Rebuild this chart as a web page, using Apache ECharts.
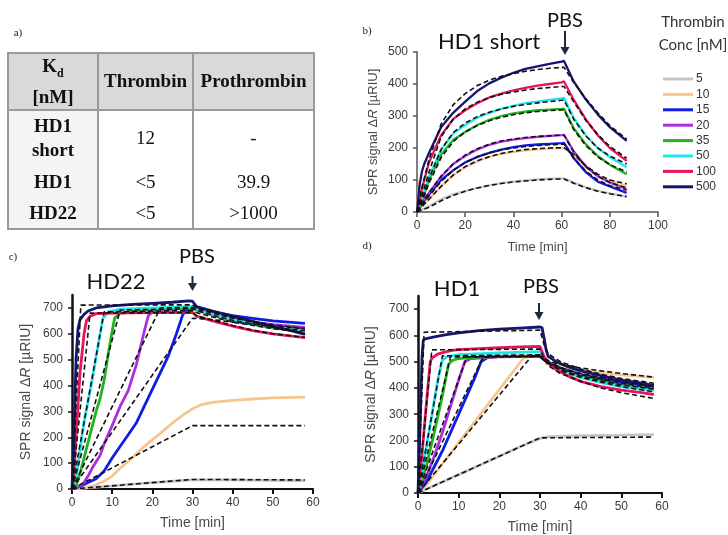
<!DOCTYPE html>
<html>
<head>
<meta charset="utf-8">
<script src="https://cdn.jsdelivr.net/npm/echarts@6/dist/echarts.min.js"></script>
<style>
html, body { margin: 0; padding: 0; background: #fff; }
#chart { position: absolute; left: 0; top: 0; width: 728px; height: 535px; }
#kdTable {
	position: absolute; left: 7px; top: 52px;
	border-collapse: collapse; table-layout: fixed;
	font-family: "Liberation Serif", "Times New Roman", serif;
	font-size: 19px; color: #111; line-height: 24px;
}
#kdTable td, #kdTable th { border-left: 2px solid #9a9a9a; border-right: 2px solid #9a9a9a; padding: 0; text-align: center; }
#kdTable th { background: #d9d9d9; border-top: 2px solid #9a9a9a; border-bottom: 2px solid #9a9a9a; }
#kdTable tr:last-child td { border-bottom: 2px solid #9a9a9a; }
#kdTable td.nm { font-weight: bold; background: #f4f4f4; }
</style>
</head>
<body>
<div id="chart"></div>
<table id="kdTable">
	<colgroup><col style="width:90px"><col style="width:95px"><col style="width:121px"></colgroup>
	<tr style="height:55px"><th>K<sub style="font-size:12px">d</sub><br>[nM]</th><th>Thrombin</th><th>Prothrombin</th></tr>
	<tr style="height:56px"><td class="nm">HD1<br>short</td><td>12</td><td>-</td></tr>
	<tr style="height:32px"><td class="nm">HD1</td><td>&lt;5</td><td>39.9</td></tr>
	<tr style="height:31px"><td class="nm">HD22</td><td>&lt;5</td><td>&gt;1000</td></tr>
</table>
<script>
// 浓度与颜色
var concNames = ['5', '10', '15', '20', '35', '50', '100', '500'];
var concColors = ['#c6c6c6', '#f7c690', '#0f1ce6', '#ad2ede', '#20b420', '#22e4ee', '#e6145e', '#15166e'];

// b) HD1 short —— 公共时间轴
var tB = [0, 1, 2, 3, 5, 10, 15, 20, 25, 30, 35, 40, 45, 50, 55, 60, 61, 65, 70, 75, 80, 87];
var b5   = [0, 5, 8, 10, 18, 40, 55, 65, 75, 83, 90, 95, 99, 102, 104, 105, 105, 92, 78, 66, 58, 48];
var b10  = [0, 100, 40, 25, 40, 80, 115, 140, 158, 172, 182, 188, 193, 196, 198, 200, 200, 178, 140, 112, 98, 82];
var b15  = [0, 10, 25, 35, 55, 100, 130, 155, 172, 185, 195, 203, 208, 211, 213, 215, 216, 169, 125, 95, 80, 60];
var b20  = [0, 10, 25, 40, 60, 110, 150, 175, 195, 210, 220, 226, 231, 235, 238, 240, 241, 190, 143, 112, 92, 72];
var b35  = [0, 15, 35, 55, 100, 180, 225, 250, 272, 288, 300, 308, 314, 318, 320, 322, 323, 262, 212, 175, 148, 118];
var b50  = [0, 20, 45, 65, 110, 195, 245, 272, 295, 310, 322, 332, 340, 345, 350, 355, 357, 294, 240, 200, 172, 140];
var b100 = [0, 30, 70, 100, 155, 240, 290, 318, 340, 358, 370, 380, 388, 395, 400, 405, 408, 351, 290, 240, 200, 160];
var b500 = [0, 80, 125, 150, 185, 265, 310, 345, 378, 402, 420, 435, 447, 455, 463, 470, 472, 408, 352, 305, 265, 222];
// 拟合曲线
var fb5   = [0, 3, 6, 9, 15, 35, 52, 65, 75, 83, 89, 94, 97, 100, 102, 103, 103, 90, 76, 65, 57, 48];
var fb10  = [0, 8, 16, 24, 40, 80, 115, 142, 160, 173, 183, 190, 195, 198, 200, 201, 201, 180, 145, 118, 100, 88];
var fb15  = [0, 10, 20, 30, 50, 95, 130, 155, 172, 185, 194, 200, 205, 208, 210, 212, 212, 168, 128, 100, 82, 68];
var fb20  = [0, 12, 25, 38, 60, 112, 150, 178, 198, 212, 222, 228, 233, 236, 238, 240, 240, 188, 142, 112, 92, 75];
var fb35  = [0, 15, 35, 50, 90, 170, 220, 250, 270, 285, 296, 304, 310, 314, 317, 319, 319, 258, 208, 172, 148, 125];
var fb50  = [0, 20, 40, 60, 105, 195, 248, 278, 298, 312, 322, 330, 336, 341, 345, 349, 350, 290, 238, 200, 175, 150];
var fb100 = [0, 25, 50, 75, 125, 235, 290, 322, 343, 358, 368, 375, 381, 386, 389, 392, 392, 345, 287, 242, 205, 168];
var fb500 = [0, 40, 75, 105, 165, 275, 335, 370, 395, 412, 424, 432, 440, 445, 449, 452, 452, 405, 355, 310, 270, 228];

// c) HD22  [时间, 信号]
var c5   = [[0, 0], [10, 12], [20, 25], [30, 35], [40, 35], [50, 33], [58, 32]];
var c10  = [[0, 0], [5, 10], [8, 30], [10, 50], [12, 80], [15, 120], [18, 165], [20, 190], [22, 215], [25, 255], [28, 290], [30, 310], [32, 325], [35, 335], [40, 343], [45, 348], [50, 352], [58, 355]];
var c15  = [[0, 0], [2, 10], [4, 25], [6, 40], [8, 70], [10, 120], [12, 165], [14, 210], [16, 255], [18, 320], [20, 385], [22, 450], [24, 515], [26, 600], [27.6, 675], [29, 695], [30, 700], [31, 700], [35, 685], [40, 670], [45, 660], [50, 650], [58, 640]];
var c20  = [[0, 0], [2, 10], [3, 25], [4, 50], [5, 80], [6, 105], [7, 130], [8, 175], [10, 245], [12, 320], [14, 380], [16, 480], [18, 610], [19, 670], [20, 685], [25, 695], [30, 700], [31, 695], [35, 680], [40, 660], [45, 645], [50, 635], [58, 625]];
var c35  = [[0, 0], [1, 10], [2, 60], [3, 120], [4, 180], [5, 240], [6, 300], [7, 350], [8, 420], [9, 520], [10, 610], [10.6, 660], [12, 680], [20, 695], [30, 700], [31, 692], [35, 672], [40, 652], [45, 636], [50, 622], [58, 610]];
var c50  = [[0, 0], [1, 40], [2, 150], [3, 260], [4, 340], [5, 420], [6, 510], [7, 600], [7.7, 660], [9, 685], [12, 695], [20, 700], [30, 705], [31, 695], [35, 675], [40, 655], [45, 638], [50, 625], [58, 610]];
var c100 = [[0, 0], [0.5, 60], [1, 200], [2, 450], [3, 600], [3.6, 650], [4.5, 668], [6, 678], [10, 680], [20, 682], [30, 683], [31, 668], [35, 650], [40, 630], [45, 612], [50, 600], [58, 585]];
var c500 = [[0, 0], [0.5, 200], [1, 500], [1.5, 620], [2, 655], [3, 675], [4, 688], [6, 700], [10, 708], [15, 714], [20, 718], [25, 722], [29, 727], [30, 726], [31, 705], [35, 688], [40, 668], [45, 648], [50, 628], [55, 610], [58, 598]];
var fc5   = [[0, 0], [30, 37], [58, 35]];
var fc10  = [[0, 0], [30, 245], [58, 245]];
var fc15  = [[0, 0], [30, 660], [35, 655], [40, 645], [50, 630], [58, 620]];
var fc20  = [[0, 0], [22, 700], [30, 702], [31, 695], [35, 680], [40, 660], [50, 635], [58, 620]];
var fc35  = [[0, 0], [12, 692], [30, 697], [31, 690], [35, 672], [40, 652], [50, 625], [58, 612]];
var fc50  = [[0, 0], [8, 685], [30, 690], [31, 682], [35, 665], [40, 645], [50, 620], [58, 605]];
var fc100 = [[0, 0], [4.5, 680], [30, 682], [31, 670], [35, 652], [40, 632], [45, 614], [50, 600], [58, 586]];
var fc500 = [[0, 0], [2.2, 711], [30, 712], [31, 700], [35, 686], [40, 666], [45, 646], [50, 626], [58, 600]];

// d) HD1
var d5   = [[0, 0], [5, 35], [10, 70], [15, 105], [20, 140], [25, 175], [30, 208], [32, 215], [40, 218], [50, 220], [58, 222]];
var d10  = [[0, 0], [2, 30], [26, 515], [28, 520], [30, 522], [31, 508], [33, 492], [35, 483], [40, 468], [45, 458], [50, 450], [58, 440]];
var d15  = [[0, 0], [2, 40], [4, 100], [6, 160], [8, 230], [10, 300], [12, 370], [14, 440], [15.5, 500], [17, 515], [20, 520], [30, 520], [31, 508], [32, 498], [35, 476], [40, 452], [45, 435], [50, 422], [58, 408]];
var d20  = [[0, 0], [2, 60], [4, 140], [6, 230], [8, 330], [10, 430], [11.5, 500], [13, 512], [20, 518], [30, 520], [31, 508], [32, 497], [35, 472], [40, 448], [45, 428], [50, 413], [58, 398]];
var d35  = [[0, 0], [2, 100], [4, 230], [6, 370], [7.5, 490], [8.5, 505], [10, 512], [15, 517], [20, 519], [30, 522], [31, 508], [32, 495], [35, 470], [40, 445], [45, 425], [50, 410], [58, 395]];
var d50  = [[0, 0], [1, 80], [2, 170], [3, 260], [4, 350], [5, 440], [6, 505], [7, 518], [10, 527], [20, 533], [30, 538], [31, 518], [32, 500], [35, 470], [40, 440], [45, 420], [50, 405], [58, 390]];
var d100 = [[0, 0], [1, 150], [2, 330], [3, 500], [3.5, 515], [5, 530], [8, 542], [10, 546], [15, 550], [20, 553], [25, 556], [30, 558], [31, 520], [32, 495], [34, 470], [37, 445], [40, 425], [45, 405], [50, 392], [55, 382], [58, 375]];
var d500 = [[0, 0], [0.5, 250], [1, 520], [1.3, 582], [2, 588], [4, 594], [7, 603], [10, 610], [15, 618], [20, 624], [25, 628], [30, 632], [30.5, 630], [31, 590], [31.5, 545], [32, 520], [34, 500], [37, 480], [40, 465], [45, 447], [50, 430], [55, 418], [58, 410]];
var fd5   = [[0, 0], [30, 210], [58, 213]];
var fd10  = [[0, 0], [28, 522], [30, 522], [31, 512], [33, 498], [35, 490], [40, 476], [45, 465], [50, 455], [58, 441]];
var fd15  = [[0, 0], [16, 518], [30, 520], [31, 507], [33, 492], [36, 472], [40, 455], [50, 425], [58, 405]];
var fd20  = [[0, 0], [12, 518], [30, 520], [31, 506], [33, 490], [36, 468], [40, 450], [50, 418], [58, 400]];
var fd35  = [[0, 0], [8, 518], [30, 521], [31, 505], [33, 488], [36, 465], [40, 445], [50, 412], [58, 395]];
var fd50  = [[0, 0], [6, 522], [30, 526], [31, 505], [33, 485], [36, 460], [40, 440], [50, 405], [58, 385]];
var fd100 = [[0, 0], [3.4, 545], [30, 548], [31, 510], [32, 485], [35, 455], [40, 425], [45, 400], [50, 382], [58, 360]];
var fd500 = [[0, 0], [1.5, 612], [30, 620], [31, 565], [32, 530], [35, 500], [40, 472], [45, 452], [50, 436], [58, 418]];

var yTicks700 = [0, 100, 200, 300, 400, 500, 600, 700];

function pairUp(ts, vs) {
	return ts.map(function (t, i) { return [t, vs[i]]; });
}
function solid(i, pts, g, w) {
	return {
		type: 'line', name: concNames[i], xAxisIndex: g, yAxisIndex: g, data: pts,
		symbol: 'none', silent: true, z: 2,
		lineStyle: { color: concColors[i], width: w }, itemStyle: { color: concColors[i] }
	};
}
function fit(pts, g) {
	return {
		type: 'line', name: 'fit', xAxisIndex: g, yAxisIndex: g, data: pts,
		symbol: 'none', silent: true, z: 3,
		lineStyle: { color: '#111', width: 1.6, type: [5, 3] }
	};
}

var bSolid = [b5, b10, b15, b20, b35, b50, b100, b500];
var bFit = [fb5, fb10, fb15, fb20, fb35, fb50, fb100, fb500];
var cSolid = [c5, c10, c15, c20, c35, c50, c100, c500];
var cFit = [fc5, fc10, fc15, fc20, fc35, fc50, fc100, fc500];
var dSolid = [d5, d10, d15, d20, d35, d50, d100, d500];
var dFit = [fd5, fd10, fd15, fd20, fd35, fd50, fd100, fd500];

var series = [];
bSolid.forEach(function (v, i) { series.push(solid(i, pairUp(tB, v), 0, 2.3)); });
cSolid.forEach(function (v, i) { series.push(solid(i, v, 1, 2.8)); });
dSolid.forEach(function (v, i) { series.push(solid(i, v, 2, 2.8)); });
bFit.forEach(function (v) { series.push(fit(pairUp(tB, v), 0)); });
cFit.forEach(function (v) { series.push(fit(v, 1)); });
dFit.forEach(function (v) { series.push(fit(v, 2)); });

var sans = '"Liberation Sans", Arial, sans-serif';
var yName = 'SPR signal Δ{i|R} [µRIU]';

function xAx(g, max, itv, lineW, color, nameSize, gap) {
	return {
		type: 'value', gridIndex: g, min: 0, max: max, interval: itv,
		name: 'Time [min]', nameLocation: 'middle', nameGap: gap,
		nameTextStyle: { fontFamily: sans, fontSize: nameSize, color: '#4a4a4a' },
		axisLine: { show: true, lineStyle: { color: color, width: lineW } },
		axisTick: { show: true, length: 5, lineStyle: { color: color, width: lineW } },
		axisLabel: { fontFamily: sans, fontSize: 12, color: '#3a3a3a', margin: 8 },
		splitLine: { show: false }
	};
}
function yAx(g, max, lineW, color, nameSize, gap, custom) {
	var ax = {
		type: 'value', gridIndex: g, min: 0, max: max, interval: 100,
		name: yName, nameLocation: 'middle', nameGap: gap,
		nameTextStyle: {
			fontFamily: sans, fontSize: nameSize, color: '#4a4a4a',
			rich: { i: { fontFamily: sans, fontSize: nameSize, color: '#4a4a4a', fontStyle: 'italic' } }
		},
		axisLine: { show: true, lineStyle: { color: color, width: lineW } },
		axisTick: { show: true, length: 4, lineStyle: { color: color, width: 1.5 } },
		axisLabel: { fontFamily: sans, fontSize: 12, color: '#3a3a3a', margin: 9 },
		splitLine: { show: false }
	};
	if (custom) {
		ax.interval = 50;
		ax.axisLabel.customValues = custom;
		ax.axisTick.customValues = custom;
	}
	return ax;
}

var titleFont = '"Lato", "Noto Sans", sans-serif';
function txt(t, x, y, size, color, family) {
	return {
		type: 'text', x: x, y: y, silent: true,
		style: { text: t, fill: color, font: size + 'px ' + family, textAlign: 'center', textVerticalAlign: 'middle' }
	};
}
function arrow(x, y0, y1) {
	return [
		{ type: 'line', silent: true, shape: { x1: x, y1: y0, x2: x, y2: y1 - 6 }, style: { stroke: '#1c2a3a', lineWidth: 2 } },
		{ type: 'polygon', silent: true, shape: { points: [[x - 4.5, y1 - 8], [x + 4.5, y1 - 8], [x, y1]] }, style: { fill: '#1c2a3a' } }
	];
}

var graphics = [
	txt('a)', 18, 33, 11, '#222', '"Liberation Serif", serif'),
	txt('b)', 367, 31, 11, '#222', '"Liberation Serif", serif'),
	txt('c)', 13, 257, 11, '#222', '"Liberation Serif", serif'),
	txt('d)', 367, 246, 11, '#222', '"Liberation Serif", serif'),
	txt('HD1 short', 489, 42, 22, '#111', titleFont),
	txt('PBS', 565, 21, 20, '#111', titleFont),
	txt('HD22', 116, 282, 22, '#111', titleFont),
	txt('PBS', 197, 257, 20, '#111', titleFont),
	txt('HD1', 457, 289, 22, '#111', titleFont),
	txt('PBS', 541, 287, 20, '#111', titleFont),
	txt('Thrombin', 693, 22, 15, '#333', titleFont),
	txt('Conc [nM]', 693, 45, 15, '#333', titleFont)
].concat(arrow(565, 31, 55), arrow(192.5, 276, 291), arrow(539, 303, 320));

var option = {
	animation: false,
	backgroundColor: 'transparent',
	grid: [
		{ left: 417, top: 52, width: 241, height: 160 },
		{ left: 72, top: 295, width: 241, height: 194 },
		{ left: 418, top: 296, width: 244, height: 197 }
	],
	xAxis: [
		xAx(0, 100, 20, 1.5, '#555', 13, 29),
		xAx(1, 60, 10, 2, '#111', 14, 27),
		xAx(2, 60, 10, 2, '#111', 14, 27)
	],
	yAxis: [
		yAx(0, 500, 1.5, '#555', 13, 37, null),
		yAx(1, 750, 2.5, '#111', 14, 39, yTicks700),
		yAx(2, 750, 2.5, '#111', 14, 40, yTicks700)
	],
	legend: {
		data: concNames, orient: 'vertical', left: 658, top: 68,
		icon: 'rect', itemWidth: 30, itemHeight: 3, itemGap: 3.4,
		selectedMode: false,
		textStyle: { fontFamily: sans, fontSize: 12, lineHeight: 12, color: '#333', padding: [0, 0, 0, -2] }
	},
	graphic: graphics,
	series: series
};

var myChart = echarts.init(document.getElementById('chart'));
myChart.setOption(option);
</script>
</body>
</html>
